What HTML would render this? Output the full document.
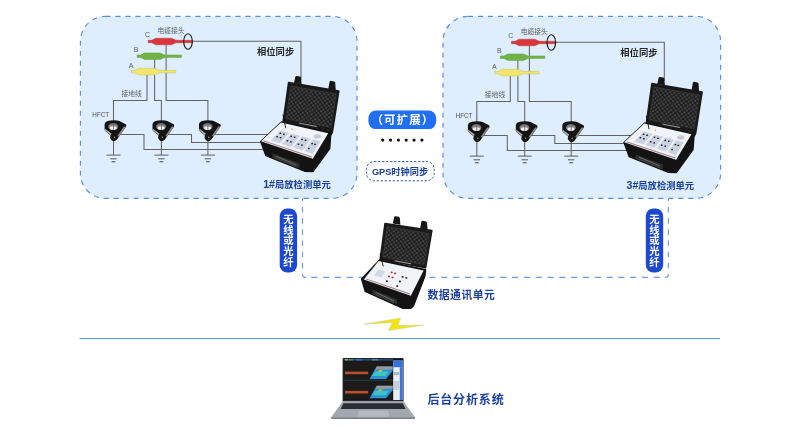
<!DOCTYPE html>
<html lang="zh-CN">
<head>
<meta charset="utf-8">
<title>局放检测系统</title>
<style>
html,body{margin:0;padding:0;background:#fff;}
body{width:800px;height:445px;overflow:hidden;font-family:"Liberation Sans", "Noto Sans CJK SC", sans-serif;}
svg{display:block;will-change:transform}
</style>
</head>
<body>
<svg width="800" height="445" viewBox="0 0 800 445">
<defs>
<pattern id="foam" width="4.4" height="4.4" patternUnits="userSpaceOnUse" patternTransform="rotate(10)">
<rect width="4.4" height="4.4" fill="#1c1c1c"/>
<circle cx="1.1" cy="1.1" r="1.05" fill="#4a4a4a"/>
<circle cx="3.3" cy="3.3" r="1.05" fill="#464646"/>
</pattern>
</defs>
<rect width="800" height="445" fill="#ffffff"/>
<!-- dashed link lines -->
<g fill="none" stroke="#7299e6" stroke-width="1.15">
<path d="M302.5 198.4 V274.6 Q302.5 277.4 305.3 277.4 H306" stroke-dasharray="5.6 5.6" stroke-dashoffset="2.7"/>
<path d="M311.25 277.4 H660" stroke-dasharray="6.2 5.61"/>
<path d="M668.4 198.4 V274.6 Q668.4 277.4 665.6 277.4 H665" stroke-dasharray="5.6 5.6" stroke-dashoffset="2.7"/>
</g>
<!-- boxes -->
<rect x="80.4" y="16.3" width="276.6" height="182.1" rx="25" fill="#deeefe" stroke="#5a8cec" stroke-width="1.15" stroke-dasharray="5.1 4.9"/>
<rect x="443" y="16.3" width="277.6" height="182.1" rx="25" fill="#deeefe" stroke="#5a8cec" stroke-width="1.15" stroke-dasharray="5.1 4.9"/>
<g transform="translate(0,0)">
<g fill="none" stroke="#636363" stroke-width="1.05">
<path d="M147 72 V100.5 H113.5 V141"/>
<path d="M154.6 56 V100.5 H161.4 V141"/>
<path d="M166.1 42 V100.5 H207.9 V141"/>
<path d="M192 41.3 H301 V80"/>
<path d="M113.5 139 V155.1"/>
<path d="M106.5 155.1 H120.5"/>
<path d="M110.3 158.8 H116.7" stroke-width="1.1"/>
<path d="M111.6 161.7 H115.4" stroke-width="1.2"/>
<path d="M161.4 139 V155.1"/>
<path d="M154.4 155.1 H168.4"/>
<path d="M158.20000000000002 158.8 H164.6" stroke-width="1.1"/>
<path d="M159.5 161.7 H163.3" stroke-width="1.2"/>
<path d="M207.9 139 V155.1"/>
<path d="M200.9 155.1 H214.9"/>
<path d="M204.70000000000002 158.8 H211.1" stroke-width="1.1"/>
<path d="M206.0 161.7 H209.8" stroke-width="1.2"/>
<path d="M120 134.5 H144 V149.5 H270"/>
<path d="M168 134.5 H191.5 V142.5 H270"/>
<path d="M215 134.5 H275"/>
</g>
<path d="M148.2 40.25 L151.79999999999998 40.25 L155.79999999999998 38.2 L171.39999999999998 38.2 L176.0 40.25 L192.7 40.25 L192.7 42.75 L176.0 42.75 L171.39999999999998 44.8 L155.79999999999998 44.8 L151.79999999999998 42.75 L148.2 42.75 Z" fill="#d8373a" stroke="#c4353a" stroke-width="0.5" stroke-linejoin="round"/>
<path d="M137 54.95 L140.6 54.95 L144.6 52.900000000000006 L160.2 52.900000000000006 L164.8 54.95 L181.5 54.95 L181.5 57.45 L164.8 57.45 L160.2 59.5 L144.6 59.5 L140.6 57.45 L137 57.45 Z" fill="#6fb245" stroke="#66a840" stroke-width="0.5" stroke-linejoin="round"/>
<path d="M131.3 70.35 L134.9 70.35 L138.9 68.3 L154.5 68.3 L159.10000000000002 70.35 L175.8 70.35 L175.8 72.85 L159.10000000000002 72.85 L154.5 74.89999999999999 L138.9 74.89999999999999 L134.9 72.85 L131.3 72.85 Z" fill="#f2e76e" stroke="#cbbd52" stroke-width="0.5" stroke-linejoin="round"/>
<ellipse cx="188" cy="41.5" rx="4.3" ry="7.8" fill="none" stroke="#1a1a1a" stroke-width="1.1"/>
<g transform="translate(0.0,0)">
<path d="M104.6 124 Q104.9 121.6 107.6 120.9 Q112 120 117.1 120.5 Q118.6 120.7 119.9 121.3 L125.7 124.2 Q126.7 124.8 126.2 126.2 L125.6 127.3 L118.9 136.7 L116.8 139.8 Q114.2 142.4 111.6 140.2 L110 137.8 L110.5 135.4 L105.2 131 Q104.5 130.2 104.6 129 Z" fill="#141414"/>
<path d="M104.8 128.4 L105 130.6 L110.5 135.3 L111.5 133.6 Z" fill="#a8a8a8"/>
<path d="M125.5 126.5 L125.5 127.5 L118.9 136.7 L117.5 135.7 L123.9 126.4 Z" fill="#8a8a8a"/>
<ellipse cx="113.2" cy="126.5" rx="5" ry="3.5" fill="#6e6e6e"/>
<ellipse cx="113.2" cy="127.2" rx="4.3" ry="2.7" fill="#8c8c8c"/>
<ellipse cx="113.2" cy="128" rx="3.4" ry="1.8" fill="#f6f6f6"/>
<path d="M113.5 123.2 V129.6" stroke="#666" stroke-width="0.9"/>
<circle cx="114.4" cy="137.2" r="0.7" fill="#c9a23a"/>
</g>
<g transform="translate(47.900000000000006,0)">
<path d="M104.6 124 Q104.9 121.6 107.6 120.9 Q112 120 117.1 120.5 Q118.6 120.7 119.9 121.3 L125.7 124.2 Q126.7 124.8 126.2 126.2 L125.6 127.3 L118.9 136.7 L116.8 139.8 Q114.2 142.4 111.6 140.2 L110 137.8 L110.5 135.4 L105.2 131 Q104.5 130.2 104.6 129 Z" fill="#141414"/>
<path d="M104.8 128.4 L105 130.6 L110.5 135.3 L111.5 133.6 Z" fill="#a8a8a8"/>
<path d="M125.5 126.5 L125.5 127.5 L118.9 136.7 L117.5 135.7 L123.9 126.4 Z" fill="#8a8a8a"/>
<ellipse cx="113.2" cy="126.5" rx="5" ry="3.5" fill="#6e6e6e"/>
<ellipse cx="113.2" cy="127.2" rx="4.3" ry="2.7" fill="#8c8c8c"/>
<ellipse cx="113.2" cy="128" rx="3.4" ry="1.8" fill="#f6f6f6"/>
<path d="M113.5 123.2 V129.6" stroke="#666" stroke-width="0.9"/>
<circle cx="114.4" cy="137.2" r="0.7" fill="#c9a23a"/>
</g>
<g transform="translate(94.4,0)">
<path d="M104.6 124 Q104.9 121.6 107.6 120.9 Q112 120 117.1 120.5 Q118.6 120.7 119.9 121.3 L125.7 124.2 Q126.7 124.8 126.2 126.2 L125.6 127.3 L118.9 136.7 L116.8 139.8 Q114.2 142.4 111.6 140.2 L110 137.8 L110.5 135.4 L105.2 131 Q104.5 130.2 104.6 129 Z" fill="#141414"/>
<path d="M104.8 128.4 L105 130.6 L110.5 135.3 L111.5 133.6 Z" fill="#a8a8a8"/>
<path d="M125.5 126.5 L125.5 127.5 L118.9 136.7 L117.5 135.7 L123.9 126.4 Z" fill="#8a8a8a"/>
<ellipse cx="113.2" cy="126.5" rx="5" ry="3.5" fill="#6e6e6e"/>
<ellipse cx="113.2" cy="127.2" rx="4.3" ry="2.7" fill="#8c8c8c"/>
<ellipse cx="113.2" cy="128" rx="3.4" ry="1.8" fill="#f6f6f6"/>
<path d="M113.5 123.2 V129.6" stroke="#666" stroke-width="0.9"/>
<circle cx="114.4" cy="137.2" r="0.7" fill="#c9a23a"/>
</g>
<g font-family='"Liberation Sans", "Noto Sans CJK SC", sans-serif' fill="#5e5e5e" font-size="6.8" text-anchor="middle">
<text x="147.6" y="36.8" font-size="7">C</text>
<text x="136" y="52.4" font-size="7">B</text>
<text x="131" y="68.4" font-size="7">A</text>
<text x="171" y="33.2">电缆接头</text>
<text x="131.7" y="96.4">接地线</text>
<text x="100.75" y="117" font-size="7.4" fill="#505050" textLength="16.8" lengthAdjust="spacingAndGlyphs">HFCT</text>
</g>
<text x="275.6" y="55.4" font-family='"Liberation Sans", "Noto Sans CJK SC", sans-serif' font-size="9.3" font-weight="700" fill="#262626" text-anchor="middle">相位同步</text>
<g>
<path d="M294 83 L295.4 76.6 Q295.8 76 296.6 76 L300 76.6 Q300.8 76.8 301 77.8 L301.6 84.2 Z" fill="#161616"/>
<path d="M328.2 89.6 L329.59999999999997 81.39999999999999 Q330.0 80.8 330.8 80.8 L334.2 81.39999999999999 Q335.0 81.6 335.2 82.6 L335.8 90.8 Z" fill="#161616"/>
<path d="M288.6 82.6 L338.8 91.0 L332.6 130.6 L283.2 121.4 Z" fill="#1a1a1a" stroke="#1a1a1a" stroke-width="1.6" stroke-linejoin="round"/>
<path d="M290.8 86.0 L336.3 94.0 L330.8 127.4 L286.0 118.6 Z" fill="url(#foam)" stroke="#454545" stroke-width="0.5"/>
<path d="M299.0 123.1 L316.8 126.5" stroke="#d8d8d8" stroke-width="0.7"/>
<path d="M260.7 141.5 L281.5 122.0 L332.6 132.0 L330.6 136.0 L329.7 148.5 L313.0 171.6 L304.6 171.2 L265.8 155.6 Z" fill="#131313" stroke="#131313" stroke-width="1.4" stroke-linejoin="round"/>
<path d="M281.0 122.6 L328.2 133.2 L312.8 158.8 L260.9 141.2 Z" fill="#f0f3f8"/>
<path d="M263.9 140.4 L312.3 156.5 L311.7 157.5 L263.1 141.2 Z" fill="#8a4a55" opacity="0.7"/>
<path d="M280.5 130.6 L289.3 132.9 L280.0 143.3 L270.8 140.4 Z" fill="#c9d2e0"/>
<path d="M291.2 133.5 L300.0 135.8 L291.2 147.0 L282.0 144.0 Z" fill="#c9d2e0"/>
<path d="M302.0 136.3 L310.8 138.7 L302.5 150.6 L293.3 147.6 Z" fill="#c9d2e0"/>
<path d="M312.7 139.2 L320.5 141.3 L312.7 153.9 L304.5 151.2 Z" fill="#c9d2e0"/>
<rect x="279.5" y="132.6" width="1.6" height="1.4" fill="#1d1d1d"/>
<rect x="283.0" y="133.6" width="1.6" height="1.4" fill="#1d1d1d"/>
<rect x="276.3" y="136.0" width="1.6" height="1.4" fill="#1d1d1d"/>
<rect x="279.8" y="137.0" width="1.6" height="1.4" fill="#1d1d1d"/>
<rect x="290.4" y="135.6" width="1.6" height="1.4" fill="#1d1d1d"/>
<rect x="293.8" y="136.6" width="1.6" height="1.4" fill="#1d1d1d"/>
<rect x="286.6" y="140.1" width="1.6" height="1.4" fill="#1d1d1d"/>
<rect x="290.1" y="141.2" width="1.6" height="1.4" fill="#1d1d1d"/>
<rect x="301.2" y="138.7" width="1.6" height="1.4" fill="#1d1d1d"/>
<rect x="304.7" y="139.6" width="1.6" height="1.4" fill="#1d1d1d"/>
<rect x="297.6" y="143.5" width="1.6" height="1.4" fill="#1d1d1d"/>
<rect x="301.1" y="144.5" width="1.6" height="1.4" fill="#1d1d1d"/>
<rect x="311.3" y="142.9" width="1.6" height="1.4" fill="#1d1d1d"/>
<rect x="314.2" y="143.7" width="1.6" height="1.4" fill="#1d1d1d"/>
<rect x="308.0" y="147.8" width="1.6" height="1.4" fill="#1d1d1d"/>
<ellipse cx="317.4" cy="136.4" rx="3.6" ry="2.1" fill="#c6cad1"/>
<circle cx="292.0" cy="129.3" r="0.8" fill="#d4a32a"/>
<path d="M283 115 L285.7 127.8" stroke="#111" stroke-width="0.9" stroke-linecap="round"/>
<path d="M272.5 153.4 L299.5 163.6 L299.5 168.2 L272.5 158.0 Z" fill="#303030"/>
<path d="M275.5 156.0 L296.5 165.0" stroke="#6a6a6a" stroke-width="1"/>
<path d="M275.5 158.0 L296.5 167.0" stroke="#4a4a4a" stroke-width="0.8"/>
</g>
<text x="297" y="187.8" font-family='"Liberation Sans", "Noto Sans CJK SC", sans-serif' font-size="9.3" font-weight="700" fill="#1b3f9f" text-anchor="middle"><tspan font-size="10.6">1#</tspan>局放检测单元</text>
</g>
<g transform="translate(363.3,1)">
<g fill="none" stroke="#636363" stroke-width="1.05">
<path d="M147 72 V100.5 H113.5 V141"/>
<path d="M154.6 56 V100.5 H161.4 V141"/>
<path d="M166.1 42 V100.5 H207.9 V141"/>
<path d="M192 41.3 H301 V80"/>
<path d="M113.5 139 V155.1"/>
<path d="M106.5 155.1 H120.5"/>
<path d="M110.3 158.8 H116.7" stroke-width="1.1"/>
<path d="M111.6 161.7 H115.4" stroke-width="1.2"/>
<path d="M161.4 139 V155.1"/>
<path d="M154.4 155.1 H168.4"/>
<path d="M158.20000000000002 158.8 H164.6" stroke-width="1.1"/>
<path d="M159.5 161.7 H163.3" stroke-width="1.2"/>
<path d="M207.9 139 V155.1"/>
<path d="M200.9 155.1 H214.9"/>
<path d="M204.70000000000002 158.8 H211.1" stroke-width="1.1"/>
<path d="M206.0 161.7 H209.8" stroke-width="1.2"/>
<path d="M120 134.5 H144 V149.5 H270"/>
<path d="M168 134.5 H191.5 V142.5 H270"/>
<path d="M215 134.5 H275"/>
</g>
<path d="M148.2 40.25 L151.79999999999998 40.25 L155.79999999999998 38.2 L171.39999999999998 38.2 L176.0 40.25 L192.7 40.25 L192.7 42.75 L176.0 42.75 L171.39999999999998 44.8 L155.79999999999998 44.8 L151.79999999999998 42.75 L148.2 42.75 Z" fill="#d8373a" stroke="#c4353a" stroke-width="0.5" stroke-linejoin="round"/>
<path d="M137 54.95 L140.6 54.95 L144.6 52.900000000000006 L160.2 52.900000000000006 L164.8 54.95 L181.5 54.95 L181.5 57.45 L164.8 57.45 L160.2 59.5 L144.6 59.5 L140.6 57.45 L137 57.45 Z" fill="#6fb245" stroke="#66a840" stroke-width="0.5" stroke-linejoin="round"/>
<path d="M131.3 70.35 L134.9 70.35 L138.9 68.3 L154.5 68.3 L159.10000000000002 70.35 L175.8 70.35 L175.8 72.85 L159.10000000000002 72.85 L154.5 74.89999999999999 L138.9 74.89999999999999 L134.9 72.85 L131.3 72.85 Z" fill="#f2e76e" stroke="#cbbd52" stroke-width="0.5" stroke-linejoin="round"/>
<ellipse cx="188" cy="41.5" rx="4.3" ry="7.8" fill="none" stroke="#1a1a1a" stroke-width="1.1"/>
<g transform="translate(0.0,0)">
<path d="M104.6 124 Q104.9 121.6 107.6 120.9 Q112 120 117.1 120.5 Q118.6 120.7 119.9 121.3 L125.7 124.2 Q126.7 124.8 126.2 126.2 L125.6 127.3 L118.9 136.7 L116.8 139.8 Q114.2 142.4 111.6 140.2 L110 137.8 L110.5 135.4 L105.2 131 Q104.5 130.2 104.6 129 Z" fill="#141414"/>
<path d="M104.8 128.4 L105 130.6 L110.5 135.3 L111.5 133.6 Z" fill="#a8a8a8"/>
<path d="M125.5 126.5 L125.5 127.5 L118.9 136.7 L117.5 135.7 L123.9 126.4 Z" fill="#8a8a8a"/>
<ellipse cx="113.2" cy="126.5" rx="5" ry="3.5" fill="#6e6e6e"/>
<ellipse cx="113.2" cy="127.2" rx="4.3" ry="2.7" fill="#8c8c8c"/>
<ellipse cx="113.2" cy="128" rx="3.4" ry="1.8" fill="#f6f6f6"/>
<path d="M113.5 123.2 V129.6" stroke="#666" stroke-width="0.9"/>
<circle cx="114.4" cy="137.2" r="0.7" fill="#c9a23a"/>
</g>
<g transform="translate(47.900000000000006,0)">
<path d="M104.6 124 Q104.9 121.6 107.6 120.9 Q112 120 117.1 120.5 Q118.6 120.7 119.9 121.3 L125.7 124.2 Q126.7 124.8 126.2 126.2 L125.6 127.3 L118.9 136.7 L116.8 139.8 Q114.2 142.4 111.6 140.2 L110 137.8 L110.5 135.4 L105.2 131 Q104.5 130.2 104.6 129 Z" fill="#141414"/>
<path d="M104.8 128.4 L105 130.6 L110.5 135.3 L111.5 133.6 Z" fill="#a8a8a8"/>
<path d="M125.5 126.5 L125.5 127.5 L118.9 136.7 L117.5 135.7 L123.9 126.4 Z" fill="#8a8a8a"/>
<ellipse cx="113.2" cy="126.5" rx="5" ry="3.5" fill="#6e6e6e"/>
<ellipse cx="113.2" cy="127.2" rx="4.3" ry="2.7" fill="#8c8c8c"/>
<ellipse cx="113.2" cy="128" rx="3.4" ry="1.8" fill="#f6f6f6"/>
<path d="M113.5 123.2 V129.6" stroke="#666" stroke-width="0.9"/>
<circle cx="114.4" cy="137.2" r="0.7" fill="#c9a23a"/>
</g>
<g transform="translate(94.4,0)">
<path d="M104.6 124 Q104.9 121.6 107.6 120.9 Q112 120 117.1 120.5 Q118.6 120.7 119.9 121.3 L125.7 124.2 Q126.7 124.8 126.2 126.2 L125.6 127.3 L118.9 136.7 L116.8 139.8 Q114.2 142.4 111.6 140.2 L110 137.8 L110.5 135.4 L105.2 131 Q104.5 130.2 104.6 129 Z" fill="#141414"/>
<path d="M104.8 128.4 L105 130.6 L110.5 135.3 L111.5 133.6 Z" fill="#a8a8a8"/>
<path d="M125.5 126.5 L125.5 127.5 L118.9 136.7 L117.5 135.7 L123.9 126.4 Z" fill="#8a8a8a"/>
<ellipse cx="113.2" cy="126.5" rx="5" ry="3.5" fill="#6e6e6e"/>
<ellipse cx="113.2" cy="127.2" rx="4.3" ry="2.7" fill="#8c8c8c"/>
<ellipse cx="113.2" cy="128" rx="3.4" ry="1.8" fill="#f6f6f6"/>
<path d="M113.5 123.2 V129.6" stroke="#666" stroke-width="0.9"/>
<circle cx="114.4" cy="137.2" r="0.7" fill="#c9a23a"/>
</g>
<g font-family='"Liberation Sans", "Noto Sans CJK SC", sans-serif' fill="#5e5e5e" font-size="6.8" text-anchor="middle">
<text x="147.6" y="36.8" font-size="7">C</text>
<text x="136" y="52.4" font-size="7">B</text>
<text x="131" y="68.4" font-size="7">A</text>
<text x="171" y="33.2">电缆接头</text>
<text x="131.7" y="96.4">接地线</text>
<text x="100.75" y="117" font-size="7.4" fill="#505050" textLength="16.8" lengthAdjust="spacingAndGlyphs">HFCT</text>
</g>
<text x="275.6" y="55.4" font-family='"Liberation Sans", "Noto Sans CJK SC", sans-serif' font-size="9.3" font-weight="700" fill="#262626" text-anchor="middle">相位同步</text>
<g>
<path d="M294 83 L295.4 76.6 Q295.8 76 296.6 76 L300 76.6 Q300.8 76.8 301 77.8 L301.6 84.2 Z" fill="#161616"/>
<path d="M328.2 89.6 L329.59999999999997 81.39999999999999 Q330.0 80.8 330.8 80.8 L334.2 81.39999999999999 Q335.0 81.6 335.2 82.6 L335.8 90.8 Z" fill="#161616"/>
<path d="M288.6 82.6 L338.8 91.0 L332.6 130.6 L283.2 121.4 Z" fill="#1a1a1a" stroke="#1a1a1a" stroke-width="1.6" stroke-linejoin="round"/>
<path d="M290.8 86.0 L336.3 94.0 L330.8 127.4 L286.0 118.6 Z" fill="url(#foam)" stroke="#454545" stroke-width="0.5"/>
<path d="M299.0 123.1 L316.8 126.5" stroke="#d8d8d8" stroke-width="0.7"/>
<path d="M260.7 141.5 L281.5 122.0 L332.6 132.0 L330.6 136.0 L329.7 148.5 L313.0 171.6 L304.6 171.2 L265.8 155.6 Z" fill="#131313" stroke="#131313" stroke-width="1.4" stroke-linejoin="round"/>
<path d="M281.0 122.6 L328.2 133.2 L312.8 158.8 L260.9 141.2 Z" fill="#f0f3f8"/>
<path d="M263.9 140.4 L312.3 156.5 L311.7 157.5 L263.1 141.2 Z" fill="#8a4a55" opacity="0.7"/>
<path d="M280.5 130.6 L289.3 132.9 L280.0 143.3 L270.8 140.4 Z" fill="#c9d2e0"/>
<path d="M291.2 133.5 L300.0 135.8 L291.2 147.0 L282.0 144.0 Z" fill="#c9d2e0"/>
<path d="M302.0 136.3 L310.8 138.7 L302.5 150.6 L293.3 147.6 Z" fill="#c9d2e0"/>
<path d="M312.7 139.2 L320.5 141.3 L312.7 153.9 L304.5 151.2 Z" fill="#c9d2e0"/>
<rect x="279.5" y="132.6" width="1.6" height="1.4" fill="#1d1d1d"/>
<rect x="283.0" y="133.6" width="1.6" height="1.4" fill="#1d1d1d"/>
<rect x="276.3" y="136.0" width="1.6" height="1.4" fill="#1d1d1d"/>
<rect x="279.8" y="137.0" width="1.6" height="1.4" fill="#1d1d1d"/>
<rect x="290.4" y="135.6" width="1.6" height="1.4" fill="#1d1d1d"/>
<rect x="293.8" y="136.6" width="1.6" height="1.4" fill="#1d1d1d"/>
<rect x="286.6" y="140.1" width="1.6" height="1.4" fill="#1d1d1d"/>
<rect x="290.1" y="141.2" width="1.6" height="1.4" fill="#1d1d1d"/>
<rect x="301.2" y="138.7" width="1.6" height="1.4" fill="#1d1d1d"/>
<rect x="304.7" y="139.6" width="1.6" height="1.4" fill="#1d1d1d"/>
<rect x="297.6" y="143.5" width="1.6" height="1.4" fill="#1d1d1d"/>
<rect x="301.1" y="144.5" width="1.6" height="1.4" fill="#1d1d1d"/>
<rect x="311.3" y="142.9" width="1.6" height="1.4" fill="#1d1d1d"/>
<rect x="314.2" y="143.7" width="1.6" height="1.4" fill="#1d1d1d"/>
<rect x="308.0" y="147.8" width="1.6" height="1.4" fill="#1d1d1d"/>
<ellipse cx="317.4" cy="136.4" rx="3.6" ry="2.1" fill="#c6cad1"/>
<circle cx="292.0" cy="129.3" r="0.8" fill="#d4a32a"/>
<path d="M283 115 L285.7 127.8" stroke="#111" stroke-width="0.9" stroke-linecap="round"/>
<path d="M272.5 153.4 L299.5 163.6 L299.5 168.2 L272.5 158.0 Z" fill="#303030"/>
<path d="M275.5 156.0 L296.5 165.0" stroke="#6a6a6a" stroke-width="1"/>
<path d="M275.5 158.0 L296.5 167.0" stroke="#4a4a4a" stroke-width="0.8"/>
</g>
<text x="297" y="187.8" font-family='"Liberation Sans", "Noto Sans CJK SC", sans-serif' font-size="9.3" font-weight="700" fill="#1b3f9f" text-anchor="middle"><tspan font-size="10.6">3#</tspan>局放检测单元</text>
</g>
<!-- center -->
<rect x="368.4" y="110.5" width="67.8" height="18.6" rx="7.5" fill="#1f6ff0"/>
<text x="402.9" y="124" font-family='"Liberation Sans", "Noto Sans CJK SC", sans-serif' font-size="11.5" font-weight="700" fill="#fff" text-anchor="middle" letter-spacing="1.1">（可扩展）</text>
<g fill="#111">
<circle cx="382.70" cy="140.1" r="1.6"/><circle cx="390.54" cy="140.1" r="1.6"/><circle cx="398.38" cy="140.1" r="1.6"/><circle cx="406.22" cy="140.1" r="1.6"/><circle cx="414.06" cy="140.1" r="1.6"/><circle cx="421.90" cy="140.1" r="1.6"/>
</g>
<rect x="366.6" y="161.6" width="67.6" height="19.2" rx="7.5" fill="#fbfdff" stroke="#2f55b0" stroke-width="1" stroke-dasharray="2.2 1.8"/>
<text x="400" y="174.6" font-family='"Liberation Sans", "Noto Sans CJK SC", sans-serif' font-size="9.2" font-weight="700" fill="#1b3f9f" text-anchor="middle">GPS时钟同步</text>
<!-- pills -->
<rect x="279.7" y="208.5" width="17.4" height="64" rx="7.5" fill="#1d49d2"/>
<text x="288.3 288.3 288.3 288.3 288.3" y="222.80 233.60 244.40 255.20 266.00" font-size="10.3" font-weight="700" fill="#fff" text-anchor="middle" font-family='"Liberation Sans", "Noto Sans CJK SC", sans-serif'>无线或光纤</text>
<rect x="645.8" y="208.5" width="17.4" height="64" rx="7.5" fill="#1d49d2"/>
<text x="654.4 654.4 654.4 654.4 654.4" y="222.80 233.60 244.40 255.20 266.00" font-size="10.3" font-weight="700" fill="#fff" text-anchor="middle" font-family='"Liberation Sans", "Noto Sans CJK SC", sans-serif'>无线或光纤</text>
<g>
<path d="M392.8 223.6 L394.2 216.79999999999998 Q394.6 216.2 395.40000000000003 216.2 L398.8 216.79999999999998 Q399.6 217.0 399.8 218.0 L400.40000000000003 224.79999999999998 Z" fill="#161616"/>
<path d="M420 229 L421.4 221.4 Q421.8 220.8 422.6 220.8 L426 221.4 Q426.8 221.60000000000002 427 222.60000000000002 L427.6 230.2 Z" fill="#161616"/>
<path d="M385.0 223.6 L431.8 230.6 L425.6 267.6 L380.2 259.4 Z" fill="#1a1a1a" stroke="#1a1a1a" stroke-width="1.6" stroke-linejoin="round"/>
<path d="M387.0 226.6 L429.3 233.7 L424.0 264.6 L383.0 256.8 Z" fill="url(#foam)" stroke="#454545" stroke-width="0.5"/>
<path d="M394.7 260.8 L411.1 263.8" stroke="#d8d8d8" stroke-width="0.7"/>
<path d="M361.6 279.0 L379.6 260.0 L425.6 269.6 L424.9 276.0 L413.6 305.4 L411.0 308.2 L403.0 308.4 L365.2 291.4 Z" fill="#131313" stroke="#131313" stroke-width="1.4" stroke-linejoin="round"/>
<path d="M378.6 261.0 L423.6 270.6 L410.8 295.8 L363.8 279.4 Z" fill="#f0f3f8"/>
<path d="M366.2 278.6 L410.3 293.6 L409.8 294.6 L365.7 279.3 Z" fill="#8a4a55" opacity="0.7"/>
<path d="M378.5 269.5 L385.3 271.3 L381.1 277.4 L374.1 275.2 Z" fill="#d3d9e4"/>
<rect x="390.7" y="271.6" width="1.8" height="1.6" fill="#c8242a"/>
<rect x="394.3" y="272.6" width="1.8" height="1.6" fill="#c8242a"/>
<rect x="388.0" y="275.7" width="1.8" height="1.6" fill="#c8242a"/>
<rect x="391.7" y="276.7" width="1.8" height="1.6" fill="#c8242a"/>
<rect x="386.0" y="280.4" width="1.8" height="1.6" fill="#1d1d1d"/>
<rect x="401.7" y="276.1" width="1.8" height="1.6" fill="#1d1d1d"/>
<rect x="405.4" y="277.1" width="1.8" height="1.6" fill="#1d1d1d"/>
<rect x="399.0" y="280.7" width="1.8" height="1.6" fill="#1d1d1d"/>
<rect x="396.3" y="285.3" width="1.8" height="1.6" fill="#1d1d1d"/>
<path d="M380.2 254 L383.2 266" stroke="#111" stroke-width="0.9" stroke-linecap="round"/>
<path d="M372.5 289.6 L397 299.6 L397 304.20000000000005 L372.5 294.20000000000005 Z" fill="#303030"/>
<path d="M375.5 292.20000000000005 L394 301.0" stroke="#6a6a6a" stroke-width="1"/>
<path d="M375.5 294.20000000000005 L394 303.0" stroke="#4a4a4a" stroke-width="0.8"/>
</g>
<text x="427.4" y="298.6" font-family='"Liberation Sans", "Noto Sans CJK SC", sans-serif' font-size="10.8" font-weight="700" fill="#1b3f9f" letter-spacing="0.55">数据通讯单元</text>
<!-- lightning -->
<path d="M364 324.3 L400.6 318 L397.8 325.6 L423.7 325 L388.2 330.6 L392.7 322.6 Z" fill="#f3e500" stroke="#c9c9b0" stroke-width="0.5" stroke-linejoin="round"/>
<!-- divider -->
<path d="M79.5 338.5 H720" stroke="#6e92d2" stroke-width="1.1"/>
<g>
<rect x="342.6" y="358" width="61" height="43.6" rx="1.2" fill="#23252a"/>
<rect x="343.6" y="359" width="59" height="41" fill="#15171a"/>
<rect x="343.6" y="359" width="49.5" height="1.6" fill="#2b4d7a"/>
<rect x="345" y="359.2" width="3" height="1.2" fill="#d9b531"/>
<rect x="349" y="359.2" width="4" height="1.2" fill="#3aa86b"/>
<rect x="356" y="359.2" width="6" height="1.2" fill="#3f78d0"/>
<rect x="372" y="359.2" width="6" height="1.2" fill="#6a8cc0"/>
<rect x="344" y="361.4" width="48.6" height="18" fill="#1d1a19"/>
<rect x="345" y="371.6" width="23.2" height="2.6" fill="#b5522a"/>
<path d="M376.5 366.5 L392.6 366.5 L392.6 371 L386 379 L369.6 379 Z" fill="#2f8fd8"/>
<path d="M377 366.5 L392.6 366.5 L392.6 369.5 L375.5 369.5 Z" fill="#9a9a98"/>
<path d="M375 371.5 L389 371.5 L385.5 376 L372 376 Z" fill="#39c6c0"/>
<path d="M379 370 L382.5 370 L381 372 L378 372 Z" fill="#d9b33a"/>
<rect x="344" y="380.7" width="48.6" height="18" fill="#1d1a19"/>
<rect x="345" y="390.90000000000003" width="23.2" height="2.6" fill="#b5522a"/>
<path d="M376.5 385.8 L392.6 385.8 L392.6 390.3 L386 398.3 L369.6 398.3 Z" fill="#2f8fd8"/>
<path d="M377 385.8 L392.6 385.8 L392.6 388.8 L375.5 388.8 Z" fill="#9a9a98"/>
<path d="M375 390.8 L389 390.8 L385.5 395.3 L372 395.3 Z" fill="#39c6c0"/>
<path d="M379 389.3 L382.5 389.3 L381 391.3 L378 391.3 Z" fill="#d9b33a"/>
<rect x="343.6" y="379.8" width="49.5" height="0.7" fill="#1f5a62"/>
<rect x="393.2" y="360.6" width="9.4" height="39.4" fill="#e9eef6"/>
<rect x="393.2" y="360.6" width="9.4" height="6.6" fill="#3672df"/>
<rect x="399.8" y="367.2" width="2.8" height="32.8" fill="#3b74dc"/>
<rect x="393.6" y="372" width="5.6" height="3" fill="#aab4c4"/>
<rect x="393.6" y="381" width="5.6" height="9" fill="#c8cdd6"/>
<path d="M342.6 401.4 L403.6 401.4 L415 417.2 Q415.3 418.6 413.8 418.8 L332.4 418.8 Q330.8 418.6 331.2 417.2 Z" fill="#a3a7ae"/>
<path d="M331.2 417.4 L415 417.4 Q415.3 418.6 413.8 418.9 L332.4 418.9 Q330.8 418.6 331.2 417.4 Z" fill="#7d8188"/>
<path d="M343.4 403.2 L402.8 403.2 L405.6 409 L340.6 409 Z" fill="#2c2e33"/>
<path d="M359 410.6 L388 410.6 L389.6 416.8 L357.4 416.8 Z" fill="#b4b8bf"/>
</g>
<text x="427.4" y="403.7" font-family='"Liberation Sans", "Noto Sans CJK SC", sans-serif' font-size="12" font-weight="700" fill="#1b3f9f" letter-spacing="0.85">后台分析系统</text>
</svg>
</body>
</html>
